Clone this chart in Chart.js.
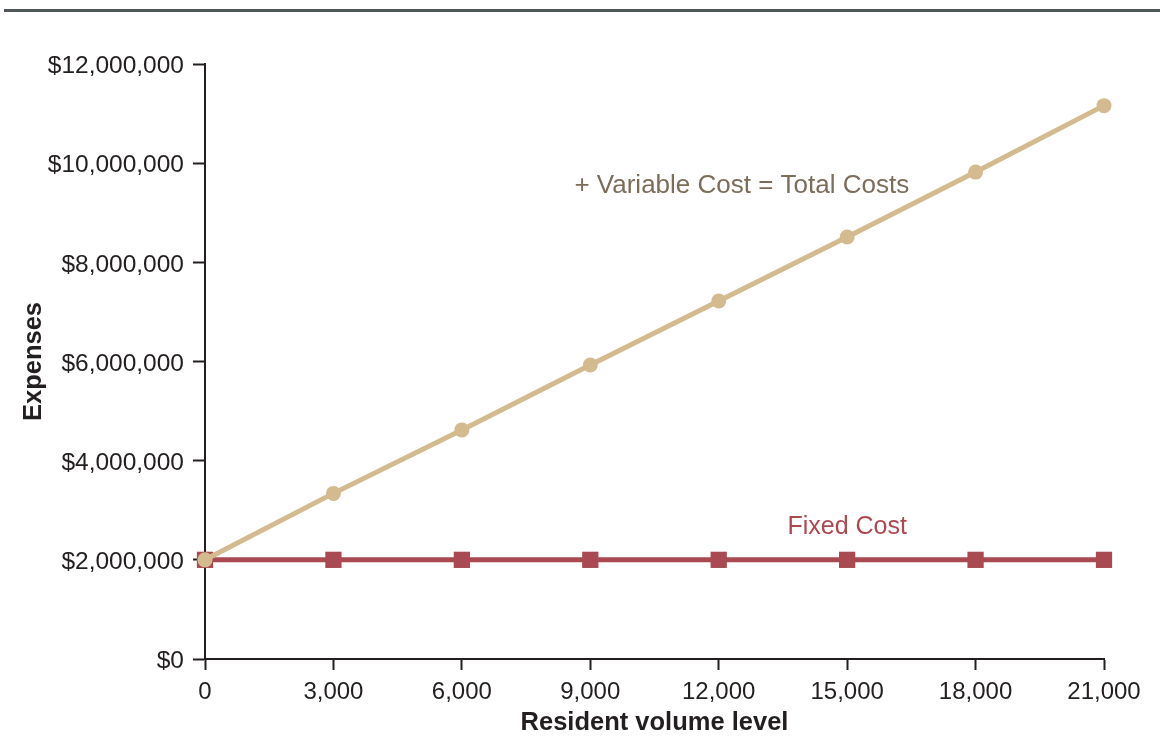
<!DOCTYPE html>
<html>
<head>
<meta charset="utf-8">
<script src="https://cdn.jsdelivr.net/npm/chart.js@4/dist/chart.umd.min.js"></script>
<style>
  html, body { margin: 0; padding: 0; background: #fff; }
  #wrap { position: relative; width: 1160px; height: 746px; }
</style>
</head>
<body>
<div id="wrap"><canvas id="c" width="1160" height="746"></canvas></div>
<script>
// ---- data ----
const volumeLevels = [0, 3000, 6000, 9000, 12000, 15000, 18000, 21000];
const totalCosts   = [2000000, 3340000, 4620000, 5930000, 7220000, 8510000, 9820000, 11160000];
const fixedCosts   = [2000000, 2000000, 2000000, 2000000, 2000000, 2000000, 2000000, 2000000];
const xTickValues  = [0, 3000, 6000, 9000, 12000, 15000, 18000, 21000];
const yTickValues  = [0, 2000000, 4000000, 6000000, 8000000, 10000000, 12000000];
const seriesNames  = ['+ Variable Cost = Total Costs', 'Fixed Cost'];

const TAN = '#d3bb8f';
const RED = '#a94a52';
const INK = '#231f20';
const FONT = '"Liberation Sans", Arial, Helvetica, sans-serif';

const toPts = (xs, ys) => xs.map((x, i) => ({ x: x, y: ys[i] }));

const labelPlugin = {
  id: 'labels',
  afterDraw(chart) {
    const ctx = chart.ctx;
    const xs = chart.scales.x, ys = chart.scales.y;
    // top rule
    ctx.save();
    ctx.strokeStyle = '#50575a';
    ctx.lineWidth = 3;
    ctx.beginPath();
    ctx.moveTo(4, 10.5);
    ctx.lineTo(1160, 10.5);
    ctx.stroke();
    // series annotations
    ctx.textAlign = 'center';
    ctx.textBaseline = 'middle';
    ctx.font = '26px ' + FONT;
    ctx.fillStyle = '#7b6d5a';
    ctx.fillText(seriesNames[0], xs.getPixelForValue(12540), ys.getPixelForValue(9540000));
    ctx.font = '25px ' + FONT;
    ctx.fillStyle = '#b0474f';
    ctx.fillText(seriesNames[1], xs.getPixelForValue(15000), ys.getPixelForValue(2660000));
    ctx.restore();
  }
};

new Chart(document.getElementById('c'), {
  type: 'line',
  data: {
    datasets: [
      {
        label: seriesNames[0],
        data: toPts(volumeLevels, totalCosts),
        borderColor: TAN,
        backgroundColor: TAN,
        borderWidth: 5,
        pointStyle: 'circle',
        pointRadius: 7.5,
        pointBorderWidth: 0,
        clip: false,
        order: 0
      },
      {
        label: seriesNames[1],
        data: toPts(volumeLevels, fixedCosts),
        borderColor: RED,
        backgroundColor: RED,
        borderWidth: 5,
        pointStyle: 'rect',
        pointRadius: 11.5,
        pointBorderWidth: 0,
        clip: false,
        order: 1
      }
    ]
  },
  options: {
    responsive: false,
    animation: false,
    events: [],
    layout: { padding: { left: 0, right: 56, top: 64, bottom: 0 } },
    plugins: { legend: { display: false }, tooltip: { enabled: false } },
    scales: {
      x: {
        type: 'linear',
        min: 0, max: 21000,
        afterFit(s) { s.height = 87; },
        afterBuildTicks(s) { s.ticks = xTickValues.map(v => ({ value: v })); },
        grid: { drawOnChartArea: false, tickLength: 11, tickWidth: 2, tickColor: INK },
        border: { color: INK, width: 2 },
        ticks: {
          color: INK, padding: 8,
          font: { family: FONT, size: 24 },
          maxRotation: 0,
          callback: v => v.toLocaleString('en-US')
        },
        title: {
          display: true, text: 'Resident volume level', color: INK,
          font: { family: FONT, size: 25.5, weight: 'bold' },
          padding: { top: 0, bottom: 8 }
        }
      },
      y: {
        type: 'linear',
        min: 0, max: 12000000,
        afterFit(s) { s.width = 205; },
        afterBuildTicks(s) { s.ticks = yTickValues.map(v => ({ value: v })); },
        grid: { drawOnChartArea: false, tickLength: 12, tickWidth: 2, tickColor: INK },
        border: { color: INK, width: 2 },
        ticks: {
          color: INK, padding: 9, labelOffset: 2.5,
          font: { family: FONT, size: 24.5 },
          callback: v => '$' + v.toLocaleString('en-US')
        },
        title: {
          display: true, text: 'Expenses', color: INK,
          font: { family: FONT, size: 25.5, weight: 'bold' },
          padding: { top: 19, bottom: 0 }
        }
      }
    }
  },
  plugins: [labelPlugin]
});
</script>
</body>
</html>
